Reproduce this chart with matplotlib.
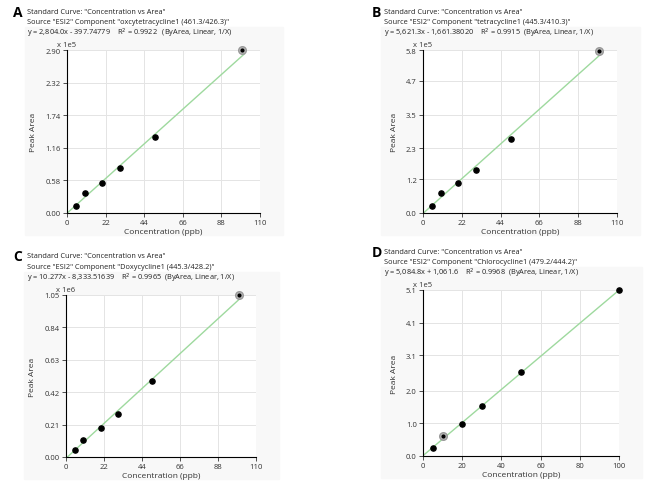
import matplotlib.pyplot as plt
import numpy as np

conc = [5, 10, 20, 30, 50, 100]

# peak areas (in axis units)
area_a = [0.13, 0.36, 0.53, 0.80, 1.36, 2.90]   # x 1e5
area_b = [0.25, 0.71, 1.07, 1.54, 2.62, 5.77]   # x 1e5
area_c = [0.043, 0.11, 0.19, 0.28, 0.49, 1.05]  # x 1e6
area_d = [0.24, 0.61, 0.98, 1.54, 2.57, 5.11]   # x 1e5

# fit (slope, intercept) in raw area units
fit_a = (2804.0, -397.74779)
fit_b = (5621.3, -1661.38020)
fit_c = (10277.0, -8333.51639)
fit_d = (5084.8, 1061.6)

yticks_a = [0.00, 0.58, 1.16, 1.74, 2.32, 2.90]
yticks_b = [0.0, 1.2, 2.3, 3.5, 4.7, 5.8]
yticks_c = [0.00, 0.21, 0.42, 0.63, 0.84, 1.05]
yticks_d = [0.0, 1.0, 2.0, 3.1, 4.1, 5.1]
xticks_abc = [0, 22, 44, 66, 88, 110]
xticks_d = [0, 20, 40, 60, 80, 100]

headers = {
    "A": ['Standard Curve: "Concentration vs Area"',
          'Source "ESI2" Component "oxcytetracycline1 (461.3/426.3)"',
          'y = 2,804.0x - 397.74779    R$^2$ = 0.9922   (ByArea, Linear, 1/X)'],
    "B": ['Standard Curve: "Concentration vs Area"',
          'Source "ESI2" Component "tetracycline1 (445.3/410.3)"',
          'y = 5,621.3x - 1,661.38020    R$^2$ = 0.9915  (ByArea, Linear, 1/X)'],
    "C": ['Standard Curve: "Concentration vs Area"',
          'Source "ESI2" Component "Doxycycline1 (445.3/428.2)"',
          'y = 10.277x - 8,333.51639    R$^2$ = 0.9965  (ByArea, Linear, 1/X)'],
    "D": ['Standard Curve: "Concentration vs Area"',
          'Source "ESI2" Component "Chlorocycline1 (479.2/444.2)"',
          'y = 5,084.8x + 1,061.6    R$^2$ = 0.9968  (ByArea, Linear, 1/X)'],
}

W, H = 671, 485
fig = plt.figure(figsize=(6.71, 4.85), dpi=100)
plt.rcParams["font.family"] = "Open Sans"

panels = [
    # letter, axes rect px (l, t, r, b), data, fit, scale, yticks, xticks, xmax, grey idx, header pos
    ("A", (67, 51, 260, 214), area_a, fit_a, 1e5, yticks_a, xticks_abc, 110, 5, (13, 27, 13, 10)),
    ("B", (423, 51, 617, 214), area_b, fit_b, 1e5, yticks_b, xticks_abc, 110, 5, (372, 384, 13, 10)),
    ("C", (66, 296, 256, 458), area_c, fit_c, 1e6, yticks_c, xticks_abc, 110, 5, (13, 27, 257, 10.5)),
    ("D", (423, 291, 619, 457), area_d, fit_d, 1e5, yticks_d, xticks_d, 100, 1, (372, 384, 253, 10)),
]

for letter, (l, t, r, b), area, fit, scale, yt, xt, xmax, grey, (lx, tx, ty, dy) in panels:
    # light panel background
    fig.patches.append(plt.Rectangle(((l - 42) / W, 1 - (b + 22) / H), (r - l + 65) / W, (b - t + 45) / H,
                                     transform=fig.transFigure, color="#f8f8f8", zorder=-5))
    ax = fig.add_axes([l / W, 1 - b / H, (r - l) / W, (b - t) / H])
    ax.set_xlim(0, xmax)
    ax.set_ylim(0, yt[-1])
    ax.set_xticks(xt)
    ax.set_yticks(yt)
    fmt = "%.2f" if letter in "AC" else "%.1f"
    ax.set_yticklabels([fmt % v for v in yt])
    ax.grid(color="#e4e4e4", linewidth=0.7)
    ax.set_axisbelow(True)
    for s in ["top", "right"]:
        ax.spines[s].set_visible(False)
    ax.tick_params(labelsize=5.5, length=3, width=0.6, pad=1.5, colors="#333333")
    ax.set_xlabel("Concentration (ppb)", fontsize=6, labelpad=1, color="#333333")
    ax.set_ylabel("Peak Area", fontsize=6, labelpad=6, color="#333333")
    ax.text(-0.05, 1.015, "x 1e%d" % int(np.log10(scale)), transform=ax.transAxes,
            fontsize=5.5, ha="left", va="bottom", color="#333333")

    xs = np.array([0, 101])
    k, c = fit
    ys = (k * xs + c) / scale
    ax.plot(xs, ys, color="#9ed99e", linewidth=1.0, zorder=2)

    for i, (xv, yv) in enumerate(zip(conc, area)):
        if i == grey:
            ax.scatter(xv, yv, s=30, color="#bbbbbb", edgecolor="#999999", zorder=3, clip_on=False)
            ax.scatter(xv, yv, s=4, color="black", zorder=4, clip_on=False)
        else:
            ax.scatter(xv, yv, s=14, color="black", zorder=4, clip_on=False)

    fig.text(lx / W, 1 - ty / H, letter, fontsize=10, fontweight="bold", va="center", ha="left")
    for j, line in enumerate(headers[letter]):
        fig.text(tx / W, 1 - (ty + j * dy) / H, line, fontsize=5.3, va="center", ha="left", color="#222222")

fig.savefig("out.png", dpi=100, facecolor="white")
